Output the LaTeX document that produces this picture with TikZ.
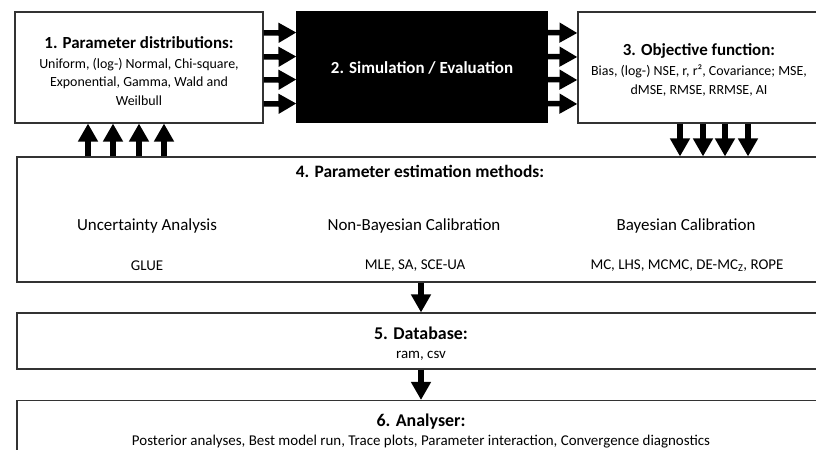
\documentclass[tikz,border=0pt]{standalone}
\usepackage{fontspec}
\setmainfont{Carlito}
\usetikzlibrary{arrows.meta}
\newcommand{\ttlfont}{\fontsize{17}{18}\selectfont\bfseries}
\newcommand{\bigttlfont}{\fontsize{18}{18}\selectfont\bfseries}
\begin{document}
\begin{tikzpicture}[x=1bp,y=-1bp,
  box/.style={draw=black!80,line width=1.1bp,rectangle,inner sep=0pt,fill=white},
  fatarr/.style={line width=5.5bp,-{Triangle[length=18bp,width=19bp]}},
  txt/.style={align=center,inner sep=0pt},
  bodytxt/.style={txt,font=\fontsize{14}{18.5}\selectfont},
  lowtxt/.style={txt,font=\fontsize{15}{19}\selectfont},
  coltxt/.style={txt,font=\fontsize{17}{20}\selectfont}]
\useasboundingbox (0,0) rectangle (816,450);
% boxes
\node[box,minimum width=248bp,minimum height=111bp] (b1) at (139,67.5) {};
\node[box,fill=black,draw=black,minimum width=250bp,minimum height=111bp] (b2) at (422,67) {};
\node[box,minimum width=244bp,minimum height=111bp] (b3) at (700,67.5) {};
\node[box,minimum width=805bp,minimum height=125bp] (b4) at (419.5,219.5) {};
\node[box,minimum width=805bp,minimum height=56bp] (b5) at (419.5,341) {};
\node[box,minimum width=805bp,minimum height=61bp] (b6) at (419.5,431) {};
% texts
\node[bodytxt] (t1) at (139,71)
  {{\ttlfont 1. Parameter distributions:}\\[1.5bp]
   Uniform, (log-) Normal, Chi-square,\\
   Exponential, Gamma, Wald and\\
   Weilbull};
\node[txt,text=white,font=\ttlfont] (t2) at (422,68) {2. Simulation / Evaluation};
\node[bodytxt] (t3) at (699,70)
  {{\ttlfont 3. Objective function:}\\[1.5bp]
   Bias, (log-) NSE, r, r², Covariance; MSE,\\
   dMSE, RMSE, RRMSE, AI};
\node[txt,font=\fontsize{17.5}{18}\selectfont\bfseries] (t4) at (420,171) {4. Parameter estimation methods:};
\node[coltxt] (c1) at (147,226) {Uncertainty Analysis};
\node[coltxt] (c2) at (414,226) {Non-Bayesian Calibration};
\node[coltxt] (c3) at (686,226) {Bayesian Calibration};
\node[lowtxt] (m1) at (147,266) {GLUE};
\node[lowtxt] (m2) at (415,266) {MLE, SA, SCE-UA};
\node[lowtxt] (m3) at (687,266) {MC, LHS, MCMC, DE-MC\textsubscript{Z}, ROPE};
\node[lowtxt] (t5) at (421,343.5)
  {{\bigttlfont 5. Database:}\\[0bp] ram, csv};
\node[lowtxt] (t6) at (421,431)
  {{\bigttlfont 6. Analyser:}\\[0bp]
   Posterior analyses, Best model run, Trace plots, Parameter interaction, Convergence diagnostics};
% horizontal arrows
\foreach \dy in {34.5,10.5,-12.5,-36.5}{
  \draw[fatarr] ([yshift=\dy bp]b1.east) -- ([yshift=\dy bp]b2.west);
  \draw[fatarr] ([yshift=\dy bp]b2.east) -- ([yshift=\dy bp]b3.west);
}
% up arrows 4 -> 1
\foreach \dx [count=\i] in {-51,-26,0,25}{
  \coordinate (u\i) at ([xshift=\dx bp]b1.south);
  \draw[fatarr] (u\i |- b4.north) -- (u\i);
}
% down arrows 3 -> 4
\foreach \dx [count=\i] in {-20,3,25,48}{
  \coordinate (d\i) at ([xshift=\dx bp]b3.south);
  \draw[fatarr] (d\i) -- (d\i |- b4.north);
}
% 4 -> 5 -> 6
\coordinate (v1) at (421,0);
\draw[fatarr] (v1 |- b4.south) -- (v1 |- b5.north);
\draw[fatarr] (v1 |- b5.south) -- (v1 |- b6.north);
\end{tikzpicture}
\end{document}
